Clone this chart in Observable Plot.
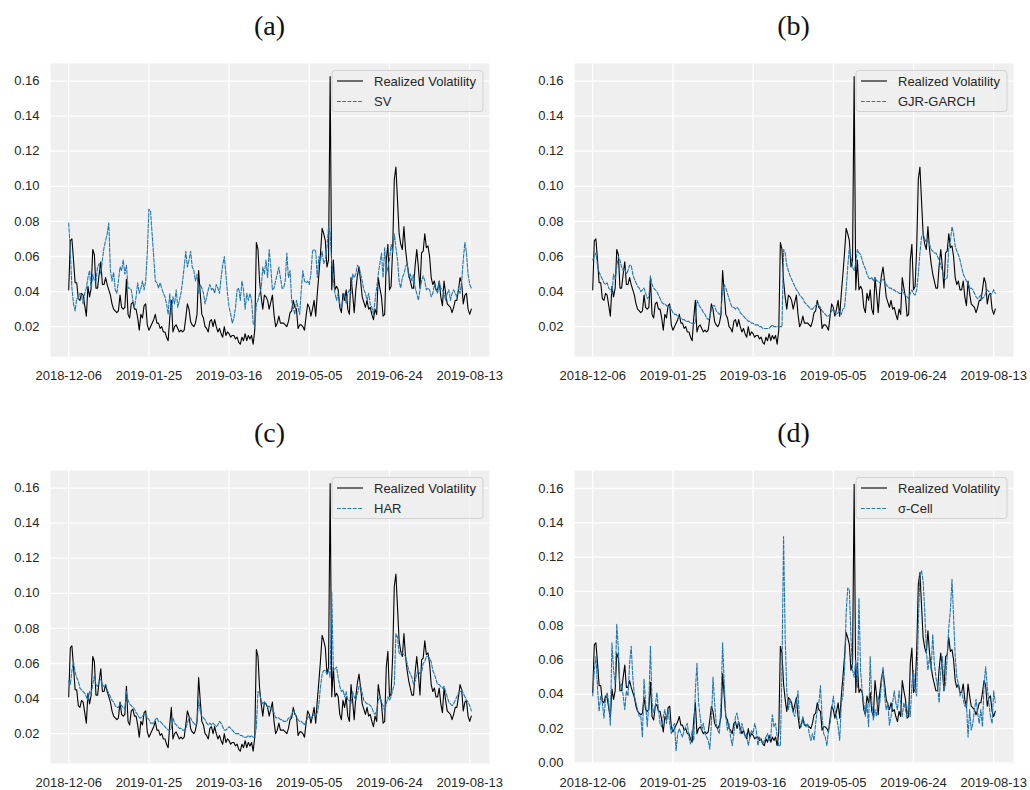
<!DOCTYPE html>
<html>
<head>
<meta charset="utf-8">
<script src="https://cdn.jsdelivr.net/npm/d3@7"></script>
<script src="https://cdn.jsdelivr.net/npm/@observablehq/plot@0.6"></script>
<style>
  html, body { margin: 0; padding: 0; background: #ffffff; }
  #root { position: relative; width: 1030px; height: 790px; overflow: hidden; background: #ffffff; }
  .panel { position: absolute; }
  .panel svg { overflow: visible; max-width: none !important; }
  #overlay { position: absolute; left: 0; top: 0; pointer-events: none; }
</style>
</head>
<body>
<div id="root"></div>
<script>
// ---- tick positions (day index) and their date labels ----
const tickIdx = [0, 50, 100, 150, 200, 250];
const tickLabels = ["2018-12-06", "2019-01-25", "2019-03-16", "2019-05-05", "2019-06-24", "2019-08-13"];
const yTicks = [0.02, 0.04, 0.06, 0.08, 0.10, 0.12, 0.14, 0.16];
const yTicksD = [0.00, 0.02, 0.04, 0.06, 0.08, 0.10, 0.12, 0.14, 0.16];

// ---- Realized Volatility (daily, index 0 = 2018-12-06) ----
const rv = [
0.041,0.069,0.070,0.058,0.045,0.045,0.036,0.035,0.039,0.038,
0.032,0.026,0.043,0.037,0.042,0.064,0.061,0.042,0.042,0.050,
0.057,0.044,0.044,0.048,0.044,0.041,0.038,0.033,0.030,0.029,
0.028,0.029,0.038,0.031,0.030,0.031,0.047,0.027,0.025,0.033,
0.034,0.030,0.030,0.025,0.018,0.027,0.025,0.032,0.033,0.021,
0.018,0.020,0.022,0.024,0.027,0.022,0.022,0.019,0.020,0.017,
0.017,0.014,0.012,0.025,0.035,0.017,0.020,0.021,0.019,0.017,
0.018,0.017,0.018,0.025,0.033,0.030,0.023,0.021,0.020,0.022,
0.027,0.052,0.039,0.027,0.025,0.020,0.019,0.017,0.023,0.024,
0.020,0.024,0.020,0.017,0.019,0.016,0.014,0.020,0.015,0.017,
0.016,0.014,0.015,0.015,0.013,0.014,0.011,0.010,0.014,0.012,
0.016,0.012,0.015,0.013,0.015,0.010,0.018,0.068,0.064,0.046,
0.037,0.030,0.038,0.037,0.035,0.030,0.034,0.038,0.027,0.020,
0.022,0.026,0.022,0.022,0.022,0.021,0.020,0.023,0.028,0.029,
0.035,0.031,0.030,0.019,0.021,0.021,0.020,0.018,0.026,0.033,
0.031,0.026,0.030,0.035,0.026,0.039,0.050,0.062,0.076,0.073,
0.069,0.054,0.058,0.1625,0.041,0.058,0.041,0.043,0.041,0.031,
0.028,0.039,0.035,0.041,0.030,0.027,0.048,0.039,0.028,0.041,
0.049,0.054,0.046,0.037,0.034,0.031,0.035,0.030,0.031,0.027,
0.024,0.030,0.027,0.048,0.042,0.037,0.026,0.027,0.058,0.067,
0.041,0.043,0.065,0.104,0.111,0.092,0.073,0.067,0.064,0.077,
0.064,0.056,0.050,0.046,0.042,0.042,0.055,0.064,0.054,0.042,
0.062,0.063,0.073,0.065,0.066,0.060,0.048,0.044,0.046,0.041,
0.041,0.046,0.037,0.032,0.046,0.039,0.033,0.032,0.031,0.028,
0.031,0.035,0.035,0.041,0.048,0.045,0.033,0.038,0.039,0.030,
0.027,0.030
];

// ---- SV forecast ----
const sv = [
0.079,0.063,0.042,0.033,0.029,0.036,0.036,0.039,0.038,0.033,
0.039,0.042,0.048,0.052,0.041,0.050,0.046,0.046,0.054,0.056,
0.050,0.058,0.065,0.069,0.073,0.079,0.052,0.046,0.051,0.041,
0.039,0.046,0.054,0.052,0.058,0.050,0.055,0.042,0.042,0.041,
0.035,0.031,0.037,0.045,0.039,0.042,0.046,0.041,0.046,0.062,
0.087,0.086,0.073,0.060,0.046,0.045,0.042,0.045,0.042,0.039,
0.037,0.033,0.027,0.039,0.027,0.037,0.033,0.041,0.031,0.035,
0.039,0.046,0.054,0.063,0.054,0.058,0.063,0.054,0.052,0.046,
0.050,0.039,0.044,0.042,0.039,0.033,0.037,0.041,0.044,0.041,
0.042,0.039,0.044,0.042,0.039,0.048,0.055,0.060,0.050,0.039,
0.031,0.027,0.022,0.025,0.031,0.041,0.042,0.035,0.046,0.041,
0.030,0.039,0.035,0.039,0.035,0.022,0.020,0.033,0.035,0.039,
0.042,0.054,0.050,0.058,0.048,0.064,0.054,0.041,0.042,0.046,
0.050,0.054,0.048,0.042,0.042,0.046,0.062,0.048,0.052,0.035,
0.031,0.027,0.035,0.031,0.027,0.041,0.052,0.046,0.045,0.046,
0.044,0.050,0.063,0.064,0.063,0.048,0.060,0.058,0.063,0.056,
0.058,0.065,0.077,0.073,0.056,0.046,0.039,0.035,0.039,0.033,
0.031,0.035,0.039,0.033,0.039,0.041,0.039,0.050,0.048,0.050,
0.055,0.054,0.050,0.046,0.041,0.039,0.035,0.039,0.033,0.031,
0.027,0.035,0.042,0.050,0.056,0.062,0.048,0.065,0.050,0.054,
0.058,0.067,0.062,0.073,0.065,0.058,0.046,0.042,0.048,0.050,
0.054,0.056,0.048,0.050,0.046,0.050,0.042,0.039,0.035,0.041,
0.046,0.049,0.046,0.041,0.042,0.041,0.037,0.039,0.044,0.041,
0.039,0.046,0.042,0.041,0.039,0.035,0.039,0.041,0.035,0.039,
0.041,0.039,0.037,0.042,0.039,0.046,0.058,0.068,0.062,0.050,
0.044,0.042
];

// ---- GJR-GARCH forecast ----
const gjr = [
0.058,0.060,0.062,0.055,0.051,0.049,0.047,0.045,0.044,0.045,
0.042,0.041,0.039,0.050,0.047,0.054,0.060,0.058,0.054,0.052,
0.053,0.050,0.052,0.055,0.055,0.050,0.047,0.045,0.043,0.042,
0.040,0.041,0.042,0.039,0.036,0.037,0.049,0.044,0.042,0.041,
0.040,0.038,0.036,0.034,0.033,0.033,0.032,0.031,0.032,0.030,
0.028,0.027,0.027,0.026,0.025,0.025,0.024,0.024,0.023,0.023,
0.023,0.022,0.022,0.022,0.022,0.035,0.033,0.031,0.030,0.028,
0.027,0.025,0.024,0.025,0.030,0.032,0.032,0.029,0.028,0.027,
0.028,0.041,0.044,0.042,0.039,0.036,0.033,0.031,0.031,0.030,
0.031,0.030,0.028,0.027,0.026,0.025,0.024,0.023,0.023,0.022,
0.022,0.021,0.021,0.021,0.020,0.020,0.019,0.019,0.019,0.019,
0.019,0.020,0.021,0.020,0.020,0.020,0.020,0.020,0.020,0.064,
0.062,0.055,0.052,0.049,0.047,0.045,0.043,0.041,0.040,0.038,
0.037,0.036,0.034,0.033,0.032,0.031,0.030,0.030,0.031,0.032,
0.033,0.032,0.031,0.029,0.028,0.027,0.026,0.026,0.027,0.029,
0.030,0.028,0.027,0.028,0.029,0.027,0.030,0.031,0.041,0.054,
0.065,0.060,0.054,0.052,0.056,0.064,0.062,0.061,0.058,0.055,
0.053,0.050,0.048,0.047,0.048,0.046,0.048,0.046,0.046,0.045,
0.046,0.047,0.046,0.044,0.043,0.042,0.042,0.041,0.041,0.040,
0.040,0.039,0.039,0.041,0.039,0.038,0.037,0.036,0.039,0.041,
0.039,0.038,0.041,0.050,0.062,0.071,0.073,0.070,0.068,0.069,
0.067,0.064,0.063,0.062,0.062,0.060,0.058,0.055,0.052,0.048,
0.047,0.048,0.065,0.069,0.077,0.073,0.066,0.063,0.061,0.058,
0.054,0.050,0.048,0.046,0.045,0.042,0.042,0.041,0.039,0.037,
0.036,0.037,0.038,0.036,0.037,0.039,0.041,0.040,0.038,0.039,
0.041,0.039
];

// ---- HAR forecast ----
const har = [
0.050,0.048,0.056,0.061,0.055,0.052,0.050,0.046,0.045,0.044,
0.043,0.041,0.039,0.044,0.043,0.048,0.053,0.048,0.047,0.050,
0.051,0.048,0.047,0.048,0.045,0.043,0.041,0.039,0.038,0.036,
0.035,0.035,0.037,0.036,0.035,0.034,0.044,0.039,0.037,0.036,
0.035,0.034,0.032,0.031,0.029,0.029,0.030,0.031,0.032,0.029,
0.028,0.026,0.026,0.026,0.028,0.029,0.027,0.027,0.026,0.025,
0.024,0.023,0.022,0.022,0.023,0.029,0.026,0.025,0.024,0.023,
0.023,0.022,0.022,0.023,0.026,0.029,0.029,0.027,0.026,0.025,
0.026,0.039,0.033,0.030,0.029,0.028,0.026,0.025,0.026,0.025,
0.026,0.025,0.024,0.025,0.027,0.026,0.024,0.022,0.022,0.023,
0.024,0.023,0.022,0.021,0.020,0.020,0.020,0.019,0.019,0.018,
0.018,0.018,0.019,0.018,0.019,0.018,0.018,0.024,0.044,0.043,
0.039,0.037,0.038,0.037,0.035,0.036,0.034,0.033,0.032,0.029,
0.029,0.029,0.028,0.028,0.027,0.027,0.027,0.029,0.029,0.031,
0.033,0.032,0.029,0.028,0.027,0.027,0.026,0.025,0.027,0.029,
0.030,0.029,0.030,0.031,0.030,0.032,0.037,0.047,0.054,0.056,
0.056,0.054,0.056,0.052,0.101,0.056,0.057,0.058,0.052,0.047,
0.044,0.045,0.041,0.044,0.039,0.039,0.037,0.044,0.041,0.039,
0.043,0.047,0.047,0.043,0.039,0.038,0.037,0.037,0.036,0.035,
0.032,0.031,0.033,0.039,0.041,0.038,0.036,0.033,0.037,0.041,
0.039,0.041,0.045,0.048,0.077,0.075,0.066,0.065,0.066,0.065,
0.064,0.060,0.056,0.054,0.052,0.048,0.050,0.054,0.056,0.054,
0.055,0.060,0.061,0.064,0.064,0.063,0.061,0.056,0.054,0.051,
0.048,0.048,0.047,0.046,0.047,0.044,0.041,0.038,0.037,0.036,
0.037,0.039,0.041,0.043,0.044,0.045,0.043,0.041,0.039,0.038,
0.036,0.033
];

// ---- σ-Cell forecast ----
const sigmaCell = [
0.039,0.054,0.062,0.044,0.030,0.039,0.035,0.026,0.037,0.041,
0.035,0.022,0.070,0.054,0.046,0.081,0.066,0.044,0.046,0.039,
0.031,0.042,0.039,0.058,0.068,0.050,0.039,0.035,0.031,0.027,
0.027,0.015,0.049,0.035,0.021,0.035,0.068,0.035,0.029,0.033,
0.041,0.031,0.023,0.021,0.027,0.031,0.023,0.031,0.023,0.017,
0.021,0.023,0.007,0.017,0.020,0.017,0.015,0.019,0.021,0.023,
0.015,0.011,0.019,0.013,0.042,0.058,0.035,0.027,0.019,0.023,
0.017,0.015,0.013,0.008,0.023,0.050,0.035,0.023,0.019,0.017,
0.035,0.070,0.046,0.027,0.019,0.023,0.015,0.010,0.017,0.027,
0.029,0.023,0.017,0.023,0.019,0.015,0.017,0.010,0.015,0.019,
0.017,0.023,0.019,0.010,0.015,0.013,0.011,0.013,0.015,0.017,
0.013,0.015,0.028,0.021,0.023,0.015,0.010,0.010,0.055,0.132,
0.073,0.042,0.031,0.037,0.033,0.029,0.027,0.035,0.042,0.023,
0.021,0.027,0.023,0.021,0.023,0.017,0.013,0.017,0.013,0.023,
0.031,0.035,0.045,0.027,0.017,0.015,0.010,0.019,0.023,0.031,
0.039,0.031,0.027,0.021,0.013,0.035,0.039,0.054,0.087,0.102,
0.101,0.073,0.054,0.050,0.060,0.044,0.096,0.054,0.042,0.035,
0.027,0.035,0.021,0.062,0.035,0.025,0.031,0.027,0.039,0.035,
0.046,0.056,0.039,0.031,0.035,0.022,0.027,0.035,0.042,0.035,
0.031,0.042,0.035,0.027,0.035,0.031,0.027,0.035,0.027,0.046,
0.054,0.042,0.039,0.081,0.110,0.112,0.106,0.089,0.066,0.054,
0.062,0.054,0.075,0.058,0.050,0.044,0.035,0.054,0.062,0.042,
0.046,0.062,0.079,0.089,0.107,0.085,0.062,0.050,0.046,0.039,
0.042,0.037,0.033,0.035,0.015,0.031,0.019,0.023,0.031,0.037,
0.029,0.023,0.031,0.021,0.046,0.056,0.044,0.035,0.027,0.023,
0.042,0.035
];

// ---- panel definitions ----
const panels = [
  {title: "(a)", name: "SV",        values: sv,        left: 50,  top: 63,  yDomain: [0.003, 0.170], ticks: yTicks},
  {title: "(b)", name: "GJR-GARCH", values: gjr,       left: 574, top: 63,  yDomain: [0.003, 0.170], ticks: yTicks},
  {title: "(c)", name: "HAR",       values: har,       left: 50,  top: 470, yDomain: [0.003, 0.170], ticks: yTicks},
  {title: "(d)", name: "σ-Cell",    values: sigmaCell, left: 574, top: 470, yDomain: [-0.0004, 0.1705], ticks: yTicksD}
];

const PW = 439, PH = 293;
const ML = 50, MR = 30, MT = 10, MB = 40;
const BLUE = "#1f77b4";
const DASH = "3.7,1.6";
const root = document.getElementById("root");

for (const p of panels) {
  const chart = Plot.plot({
    width: PW + ML + MR,
    height: PH + MT + MB,
    marginLeft: ML, marginRight: MR, marginTop: MT, marginBottom: MB,
    style: {fontFamily: "'Liberation Sans', Arial, sans-serif", fontSize: "13px", color: "#262626", background: "transparent"},
    x: {type: "linear", domain: [-11.35, 262.35], label: null},
    y: {type: "linear", domain: p.yDomain, label: null},
    marks: [
      Plot.frame({fill: "#efefef", stroke: "none"}),
      Plot.gridX(tickIdx, {stroke: "#ffffff", strokeOpacity: 1, strokeWidth: 1.3}),
      Plot.gridY(p.ticks, {stroke: "#ffffff", strokeOpacity: 1, strokeWidth: 1.3}),
      Plot.line(rv, {x: (d, i) => i, y: d => d, stroke: "#000000", strokeWidth: 1.1}),
      Plot.line(p.values, {x: (d, i) => i, y: d => d, stroke: BLUE, strokeWidth: 1.1, strokeDasharray: DASH}),
      Plot.axisX(tickIdx, {tickSize: 0, tickPadding: 14, tickFormat: (d) => tickLabels[tickIdx.indexOf(d)], label: null, fill: "#262626"}),
      Plot.axisY(p.ticks, {tickSize: 0, tickPadding: 11, tickFormat: d3.format(".2f"), label: null, fill: "#262626"})
    ]
  });
  const wrap = document.createElement("div");
  wrap.className = "panel";
  wrap.style.left = (p.left - ML) + "px";
  wrap.style.top = (p.top - MT) + "px";
  wrap.appendChild(chart);
  root.appendChild(wrap);
}

// ---- overlay: titles and legends ----
const ns = "http://www.w3.org/2000/svg";
const ov = document.createElementNS(ns, "svg");
ov.setAttribute("id", "overlay");
ov.setAttribute("width", 1030);
ov.setAttribute("height", 790);
root.appendChild(ov);
function el(tag, attrs, text) {
  const e = document.createElementNS(ns, tag);
  for (const k in attrs) e.setAttribute(k, attrs[k]);
  if (text != null) e.textContent = text;
  ov.appendChild(e);
  return e;
}
for (const p of panels) {
  el("text", {x: p.left + PW / 2, y: p.top - 28, "text-anchor": "middle",
    "font-family": "'Liberation Serif', 'DejaVu Serif', serif", "font-size": 28, fill: "#111"}, p.title);
  const bw = 151, bh = 41;
  const bx = p.left + PW - 6 - bw, by = p.top + 7.5;
  el("rect", {x: bx, y: by, width: bw, height: bh, rx: 3, ry: 3, fill: "#efefef", "fill-opacity": 0.8, stroke: "#d2d2d2", "stroke-width": 1});
  const rows = [{label: "Realized Volatility", color: "#000", dash: null}, {label: p.name, color: BLUE, dash: DASH}];
  rows.forEach((r, k) => {
    const cy = by + 10.5 + k * 20.5;
    const attrs = {x1: bx + 5, x2: bx + 31, y1: cy, y2: cy, stroke: r.color, "stroke-width": 1.1};
    if (r.dash) attrs["stroke-dasharray"] = r.dash;
    el("line", attrs);
    el("text", {x: bx + 42, y: cy + 4.6, "font-family": "'Liberation Sans', Arial, sans-serif", "font-size": 13, fill: "#262626"}, r.label);
  });
}
</script>
</body>
</html>
